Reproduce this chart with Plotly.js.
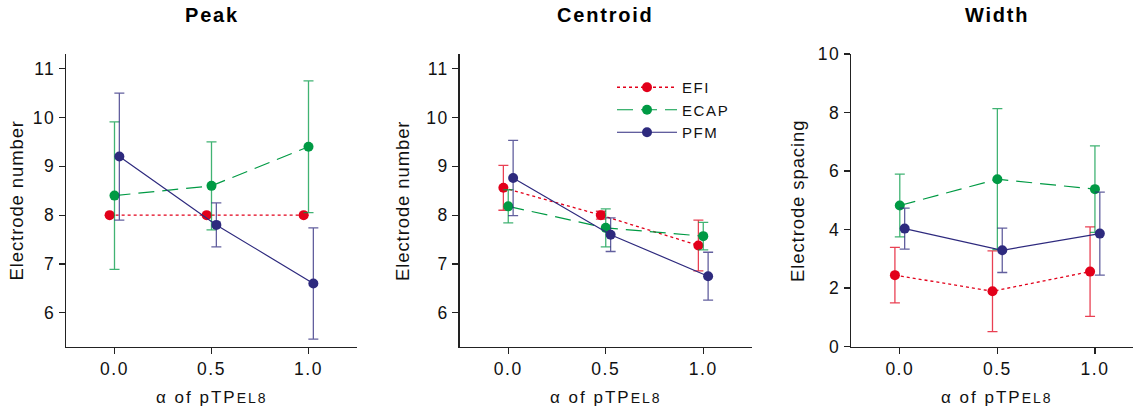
<!DOCTYPE html>
<html>
<head>
<meta charset="utf-8">
<script src="https://cdn.plot.ly/plotly-3.0.1.min.js"></script>
<style>html,body{margin:0;padding:0;background:#fff;overflow:hidden}</style>
</head>
<body>
<div id="chart" style="width:1133px;height:411px"></div>
<script>
// ---- Data ----
const alphaLevels = [0.0, 0.5, 1.0];
const tickLabels = ["0.0", "0.5", "1.0"];
const seriesNames = ["EFI", "ECAP", "PFM"];
const panelTitles = ["Peak", "Centroid", "Width"];
const yTitles = ["Electrode number", "Electrode number", "Electrode spacing"];

// Peak
const peakEFI = [8.0, 8.0, 8.0];
const peakEFIerr = [0, 0, 0];
const peakECAP = [8.4, 8.6, 9.4];
const peakECAPerr = [1.51, 0.9, 1.35];
const peakPFM = [9.2, 7.8, 6.6];
const peakPFMerr = [1.3, 0.45, 1.14];

// Centroid
const centEFI = [8.56, 8.0, 7.38];
const centEFIerr = [0.46, 0.08, 0.52];
const centECAP = [8.18, 7.74, 7.57];
const centECAPerr = [0.34, 0.39, 0.28];
const centPFM = [8.76, 7.60, 6.75];
const centPFMerr = [0.77, 0.345, 0.49];

// Width
const widEFI = [2.44, 1.89, 2.56];
const widEFIerr = [0.95, 1.38, 1.53];
const widECAP = [4.82, 5.72, 5.38];
const widECAPerr = [1.07, 2.41, 1.48];
const widPFM = [4.03, 3.29, 3.86];
const widPFMerr = [0.7, 0.76, 1.42];

// ---- Styles ----
const colors = {EFI: "#e2001a", ECAP: "#009a44", PFM: "#2e2a7e"};
const errColors = {EFI: "rgba(226,0,26,0.75)", ECAP: "rgba(0,154,68,0.75)", PFM: "rgba(46,42,126,0.75)"};
const dashes = {EFI: "dot", ECAP: "16px,8px", PFM: "solid"};
const offsets = {EFI: -0.025, ECAP: 0, PFM: 0.025};
const FONT = "Liberation Sans, Arial, sans-serif";
const sp = (t, ls) => '<span style="letter-spacing:' + ls + 'px">' + t + '</span>';

const panels = [
  {EFI: [peakEFI, peakEFIerr], ECAP: [peakECAP, peakECAPerr], PFM: [peakPFM, peakPFMerr]},
  {EFI: [centEFI, centEFIerr], ECAP: [centECAP, centECAPerr], PFM: [centPFM, centPFMerr]},
  {EFI: [widEFI, widEFIerr], ECAP: [widECAP, widECAPerr], PFM: [widPFM, widPFMerr]}
];

const traces = [];
panels.forEach((p, i) => {
  const ax = i === 0 ? "" : String(i + 1);
  seriesNames.forEach(name => {
    const [vals, errs] = p[name];
    traces.push({
      type: "scatter",
      mode: "lines+markers",
      name: sp(name, 1.6),
      x: alphaLevels.map(a => a + offsets[name]),
      y: vals,
      xaxis: "x" + ax,
      yaxis: "y" + ax,
      showlegend: i === 1,
      line: {color: colors[name], width: name === "EFI" ? 1.3 : 1.2, dash: dashes[name]},
      marker: {color: colors[name], size: 10},
      error_y: {type: "data", array: errs, visible: true, color: errColors[name], thickness: 1.3, width: 5},
      cliponaxis: false
    });
  });
});

const xDomains = [[66/1133, 357/1133], [459.5/1133, 752/1133], [851/1133, 1]];
const yDomain = [1 - 346.5/411, 1 - 54/411];
const yRanges = [[5.31, 11.3], [5.31, 11.3], [0, 10]];
const yTicks = [[6, 7, 8, 9, 10, 11], [6, 7, 8, 9, 10, 11], [0, 2, 4, 6, 8, 10]];
const xRanges = [[-0.25, 1.25], [-0.25, 1.25], [-0.25, 1.195]];

const layout = {
  width: 1133, height: 411,
  margin: {l: 0, r: 0, t: 0, b: 0},
  paper_bgcolor: "#fff", plot_bgcolor: "#fff",
  font: {family: FONT, size: 17, color: "#111"},
  showlegend: true,
  legend: {
    x: 612/1133, y: 1 - 71/411, xanchor: "left", yanchor: "top",
    font: {family: FONT, size: 15, color: "#111"},
    itemwidth: 60, tracegroupgap: 0, bgcolor: "rgba(0,0,0,0)"
  },
  annotations: []
};

panels.forEach((p, i) => {
  const ax = i === 0 ? "" : String(i + 1);
  layout["xaxis" + ax] = {
    domain: xDomains[i], range: xRanges[i], anchor: "y" + ax,
    showgrid: false, zeroline: false, showline: true, linecolor: "#222", linewidth: 1.2,
    ticks: "outside", ticklen: 6, tickcolor: "#222", tickwidth: 1.2,
    tickmode: "array", tickvals: alphaLevels, ticktext: tickLabels.map(t => sp(t, 1.5)),
    tickfont: {family: FONT, size: 17.5, color: "#111"}, automargin: false
  };
  layout["yaxis" + ax] = {
    domain: yDomain, range: yRanges[i], anchor: "x" + ax,
    showgrid: false, zeroline: false, showline: true, linecolor: "#222", linewidth: 1.2,
    ticks: "outside", ticklen: 6, tickcolor: "#222", tickwidth: 1.2,
    tickmode: "array", tickvals: yTicks[i], ticktext: yTicks[i].map(v => sp(String(v), 1.5)),
    tickfont: {family: FONT, size: 17.5, color: "#111"}, automargin: false
  };
  // panel title
  layout.annotations.push({
    text: "<b>" + sp(panelTitles[i], 1.8) + "</b>", xref: "x" + ax, yref: "paper",
    x: 0.5, y: 1 - 15/411, xanchor: "center", yanchor: "middle", showarrow: false,
    font: {family: FONT, size: 20, color: "#000"}
  });
  // x axis title
  layout.annotations.push({
    text: sp("\u03b1 of pTP", 2) + '<span style="font-size:14px;letter-spacing:2px">EL8</span>', xref: "x" + ax, yref: "paper",
    x: 0.5, y: 1 - 397/411, xanchor: "center", yanchor: "middle", showarrow: false,
    font: {family: FONT, size: 17, color: "#111"}
  });
});
// y axis titles
const yTitleX = [16.5, 403, 798];
yTitles.forEach((t, i) => {
  layout.annotations.push({
    text: sp(t, 0.9), xref: "paper", yref: "paper",
    x: yTitleX[i]/1133, y: 1 - 201/411, xanchor: "center", yanchor: "middle",
    textangle: -90, showarrow: false,
    font: {family: FONT, size: 18.5, color: "#111"}
  });
});

Plotly.newPlot("chart", traces, layout, {displayModeBar: false, staticPlot: true});
</script>
</body>
</html>
